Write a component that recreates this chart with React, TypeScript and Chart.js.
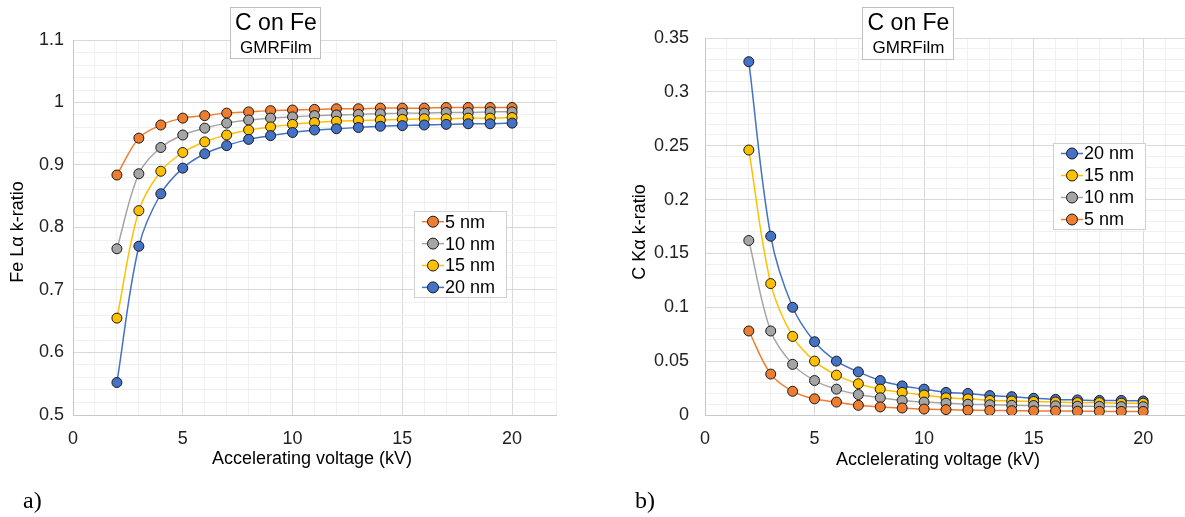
import React, { useEffect, useRef } from "react";
import { Chart, registerables } from "chart.js";

Chart.register(...registerables);

// ---------- data ----------
const voltages = [2, 3, 4, 5, 6, 7, 8, 9, 10, 11, 12, 13, 14, 15, 16, 17, 18, 19, 20];

const feLa5nm = [0.884, 0.943, 0.964, 0.975, 0.979, 0.983, 0.985, 0.987, 0.988, 0.989, 0.99, 0.99, 0.991, 0.991, 0.991, 0.992, 0.992, 0.992, 0.992];
const feLa10nm = [0.766, 0.886, 0.928, 0.948, 0.959, 0.967, 0.972, 0.975, 0.977, 0.979, 0.98, 0.981, 0.982, 0.983, 0.983, 0.984, 0.984, 0.985, 0.985];
const feLa15nm = [0.655, 0.827, 0.89, 0.92, 0.937, 0.948, 0.956, 0.961, 0.965, 0.968, 0.97, 0.971, 0.972, 0.973, 0.974, 0.974, 0.975, 0.975, 0.976];
const feLa20nm = [0.552, 0.77, 0.854, 0.895, 0.918, 0.931, 0.941, 0.947, 0.952, 0.956, 0.958, 0.96, 0.962, 0.963, 0.964, 0.965, 0.966, 0.966, 0.967];

const cKa20nm = [0.328, 0.166, 0.1, 0.068, 0.05, 0.04, 0.032, 0.027, 0.024, 0.021, 0.02, 0.018, 0.017, 0.0155, 0.0145, 0.014, 0.0135, 0.0135, 0.013];
const cKa15nm = [0.246, 0.122, 0.073, 0.05, 0.037, 0.029, 0.024, 0.021, 0.0185, 0.016, 0.015, 0.0135, 0.013, 0.0125, 0.012, 0.0115, 0.0115, 0.011, 0.011];
const cKa10nm = [0.162, 0.078, 0.047, 0.032, 0.024, 0.019, 0.016, 0.0135, 0.012, 0.011, 0.01, 0.0095, 0.009, 0.0088, 0.0085, 0.0082, 0.008, 0.0078, 0.0077];
const cKa5nm = [0.078, 0.038, 0.022, 0.015, 0.012, 0.009, 0.0075, 0.0065, 0.0055, 0.005, 0.0045, 0.0042, 0.004, 0.0038, 0.0037, 0.0035, 0.0034, 0.0033, 0.0033];

const seriesLabels = ["5 nm", "10 nm", "15 nm", "20 nm"];
const chartTitle = "C on Fe";
const chartSubtitle = "GMRFilm";
const leftYTitle = "Fe L\u03b1 k-ratio";
const rightYTitle = "C K\u03b1 k-ratio";
const leftXTitle = "Accelerating voltage (kV)";
const rightXTitle = "Acclelerating voltage (kV)";

// ---------- styles ----------
const COLORS: Record<string, string> = {
  "5 nm": "#ED7D31",
  "10 nm": "#A5A5A5",
  "15 nm": "#FFC000",
  "20 nm": "#4472C4",
};
const FONT = "'Liberation Sans', Arial, sans-serif";
const MAJOR = "#d9d9d9";
const MINOR = "#f0f0f0";
const TEXT = "#222222";

const overlayPlugin = {
  id: "overlay",
  afterDraw(chart: any, _args: any, opts: any) {
    const ctx = chart.ctx as CanvasRenderingContext2D;
    ctx.save();
    // title box
    const tb = opts.titleBox;
    ctx.fillStyle = "#ffffff";
    ctx.fillRect(tb.x, tb.y, tb.w, tb.h);
    ctx.strokeStyle = "#bfbfbf";
    ctx.lineWidth = 1;
    ctx.strokeRect(tb.x + 0.5, tb.y + 0.5, tb.w, tb.h);
    ctx.fillStyle = "#000";
    ctx.textAlign = "center";
    ctx.textBaseline = "middle";
    ctx.font = `23px ${FONT}`;
    ctx.fillText(chartTitle, tb.x + tb.w / 2 + 1, tb.y + 17);
    ctx.font = `17px ${FONT}`;
    ctx.fillText(chartSubtitle, tb.x + tb.w / 2 + 1, tb.y + 41);

    // legend
    const lg = opts.legend;
    ctx.fillStyle = "#ffffff";
    ctx.fillRect(lg.x, lg.y, lg.w, lg.h);
    ctx.strokeStyle = "#d0d0d0";
    ctx.strokeRect(lg.x + 0.5, lg.y + 0.5, lg.w, lg.h);
    chart.data.datasets.forEach((ds: any, i: number) => {
      const cy = lg.y + lg.first + i * lg.rowH;
      ctx.strokeStyle = ds.borderColor;
      ctx.lineWidth = 1.5;
      ctx.beginPath();
      ctx.moveTo(lg.x + 8, cy);
      ctx.lineTo(lg.x + 30, cy);
      ctx.stroke();
      ctx.beginPath();
      ctx.arc(lg.x + 19, cy, 5.5, 0, Math.PI * 2);
      ctx.fillStyle = ds.backgroundColor;
      ctx.fill();
      ctx.strokeStyle = "#1a1a1a";
      ctx.lineWidth = 1;
      ctx.stroke();
      ctx.fillStyle = "#000";
      ctx.textAlign = "left";
      ctx.textBaseline = "middle";
      ctx.font = `18px ${FONT}`;
      ctx.fillText(ds.label, lg.x + 31, cy + 1);
    });

    // axis titles
    ctx.fillStyle = "#000";
    ctx.font = `18px ${FONT}`;
    ctx.textAlign = "center";
    ctx.textBaseline = "middle";
    ctx.fillText(opts.xTitle.text, opts.xTitle.x, opts.xTitle.y);
    ctx.save();
    ctx.translate(opts.yTitle.x, opts.yTitle.y);
    ctx.rotate(-Math.PI / 2);
    ctx.fillText(opts.yTitle.text, 0, 0);
    ctx.restore();
    ctx.restore();
  },
};

function makeDataset(label: string, values: number[], order: number) {
  return {
    label,
    data: voltages.map((v, i) => ({ x: v, y: values[i] })),
    borderColor: COLORS[label],
    backgroundColor: COLORS[label],
    pointBackgroundColor: COLORS[label],
    pointBorderColor: "#1a1a1a",
    pointBorderWidth: 1,
    pointRadius: 5,
    borderWidth: 1.5,
    tension: 0.35,
    order,
  };
}

type Cfg = {
  datasets: any[];
  yMin: number;
  yMax: number;
  yStep: number;
  yMajorEvery: number; // in hundredths
  yWidth: number;
  yPad: number;
  padding: any;
  overlay: any;
};

function buildConfig(c: Cfg): any {
  const isYMajor = (v: number) => Math.round(v * 100) % c.yMajorEvery === 0;
  return {
    type: "line",
    data: { datasets: c.datasets },
    plugins: [overlayPlugin],
    options: {
      animation: false,
      responsive: false,
      devicePixelRatio: 1,
      layout: { padding: c.padding },
      plugins: {
        legend: { display: false },
        tooltip: { enabled: false },
        title: { display: false },
        overlay: c.overlay,
      },
      scales: {
        x: {
          type: "linear",
          min: 0,
          max: 22,
          afterFit: (s: any) => {
            s.height = 102;
          },
          ticks: {
            stepSize: 1,
            autoSkip: false,
            maxRotation: 0,
            padding: 13,
            color: TEXT,
            font: { family: FONT, size: 18 },
            callback: (v: any) => (Number(v) % 5 === 0 ? String(v) : ""),
          },
          grid: {
            drawTicks: false,
            color: (ctx: any) => (ctx.tick && ctx.tick.value % 5 === 0 ? MAJOR : MINOR),
          },
          border: { color: "#c8c8c8", width: 1 },
        },
        y: {
          type: "linear",
          min: c.yMin,
          max: c.yMax,
          afterFit: (s: any) => {
            s.width = c.yWidth;
          },
          ticks: {
            stepSize: c.yStep,
            autoSkip: false,
            padding: c.yPad,
            color: TEXT,
            font: { family: FONT, size: 18 },
            callback: (v: any) => (isYMajor(Number(v)) ? String(Math.round(Number(v) * 100) / 100) : ""),
          },
          grid: {
            drawTicks: false,
            color: (ctx: any) => (ctx.tick && isYMajor(ctx.tick.value) ? MAJOR : MINOR),
          },
          border: { color: "#c8c8c8", width: 1 },
        },
      },
    },
  };
}

function ChartCanvas({ config, width, height }: { config: any; width: number; height: number }) {
  const ref = useRef<HTMLCanvasElement | null>(null);
  useEffect(() => {
    if (!ref.current) return;
    const chart = new Chart(ref.current, config);
    return () => chart.destroy();
  }, [config]);
  return <canvas ref={ref} width={width} height={height} style={{ display: "block", width, height }} />;
}

const leftConfig = buildConfig({
  datasets: [
    makeDataset(seriesLabels[0], feLa5nm, 3),
    makeDataset(seriesLabels[1], feLa10nm, 2),
    makeDataset(seriesLabels[2], feLa15nm, 1),
    makeDataset(seriesLabels[3], feLa20nm, 0),
  ],
  yMin: 0.5,
  yMax: 1.1,
  yStep: 0.02,
  yMajorEvery: 10,
  yWidth: 73,
  yPad: 9,
  padding: { top: 40, right: 44, left: 0, bottom: 0 },
  overlay: {
    titleBox: { x: 230, y: 7, w: 90, h: 51 },
    legend: { x: 414, y: 211, w: 92, h: 86, first: 10.7, rowH: 21.9 },
    xTitle: { text: leftXTitle, x: 312, y: 459 },
    yTitle: { text: leftYTitle, x: 18, y: 232 },
  },
});

const rightConfig = buildConfig({
  datasets: [
    makeDataset(seriesLabels[3], cKa20nm, 3),
    makeDataset(seriesLabels[2], cKa15nm, 2),
    makeDataset(seriesLabels[1], cKa10nm, 1),
    makeDataset(seriesLabels[0], cKa5nm, 0),
  ],
  yMin: 0,
  yMax: 0.35,
  yStep: 0.01,
  yMajorEvery: 5,
  yWidth: 105,
  yPad: 16,
  padding: { top: 38, right: 12, left: 0, bottom: 0 },
  overlay: {
    titleBox: { x: 262, y: 7, w: 91, h: 52 },
    legend: { x: 453, y: 143, w: 92, h: 86, first: 10.5, rowH: 22 },
    xTitle: { text: rightXTitle, x: 338, y: 460 },
    yTitle: { text: rightYTitle, x: 40, y: 232 },
  },
});

export default function App() {
  return (
    <div
      style={{
        position: "fixed",
        left: 0,
        top: 0,
        width: 1185,
        height: 517,
        overflow: "hidden",
        background: "#ffffff",
      }}
    >
      <div style={{ position: "absolute", left: 0, top: 0 }}>
        <ChartCanvas config={leftConfig} width={600} height={517} />
      </div>
      <div style={{ position: "absolute", left: 600, top: 0 }}>
        <ChartCanvas config={rightConfig} width={600} height={517} />
      </div>
      <div
        style={{
          position: "absolute",
          left: 23,
          top: 488,
          fontFamily: "'Liberation Serif', 'Times New Roman', serif",
          fontSize: 24,
          lineHeight: 1,
          color: "#000",
        }}
      >
        a)
      </div>
      <div
        style={{
          position: "absolute",
          left: 635,
          top: 488,
          fontFamily: "'Liberation Serif', 'Times New Roman', serif",
          fontSize: 24,
          lineHeight: 1,
          color: "#000",
        }}
      >
        b)
      </div>
    </div>
  );
}
